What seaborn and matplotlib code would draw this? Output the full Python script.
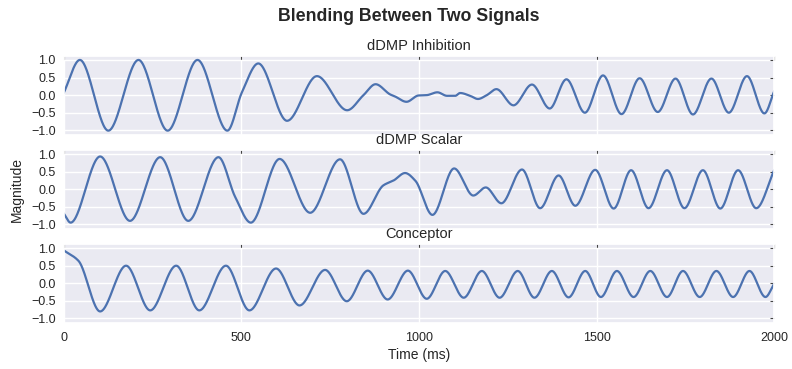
import numpy as np
import pandas as pd
import matplotlib
matplotlib.use("Agg")
import matplotlib.pyplot as plt
import seaborn as sns

# Turning points of each trace: time (ms) and magnitude
inhib_t = [0, 46, 126, 211, 293, 377, 461, 502, 548, 629, 713, 798, 844, 878,
           919, 933, 965, 999, 1022, 1052, 1079, 1102, 1116, 1144, 1166, 1191,
           1218, 1266, 1318, 1368, 1415, 1467, 1518, 1570, 1621, 1672, 1722,
           1771, 1823, 1872, 1923, 1972, 2000]
inhib_y = [0.05, 1.00, -1.01, 1.00, -1.01, 1.00, -1.01, 0.08, 0.90, -0.73, 0.54,
           -0.43, 0.00, 0.31, 0.02, -0.04, -0.19, -0.01, 0.00, 0.08, -0.02, -0.02,
           0.06, -0.02, -0.11, 0.00, 0.17, -0.29, 0.30, -0.38, 0.45, -0.50, 0.56,
           -0.54, 0.48, -0.48, 0.47, -0.55, 0.47, -0.50, 0.54, -0.52, 0.12]

scalar_t = [0, 20, 103, 187, 272, 351, 436, 483, 527, 608, 694, 778, 844, 900,
            929, 961, 990, 1038, 1099, 1153, 1188, 1232, 1290, 1341, 1393, 1440,
            1496, 1548, 1597, 1646, 1698, 1747, 1799, 1848, 1898, 1949, 2000]
scalar_y = [-0.68, -0.95, 0.93, -0.90, 0.91, -0.90, 0.91, -0.22, -0.95, 0.86,
            -0.67, 0.85, -0.70, 0.11, 0.25, 0.46, 0.24, -0.73, 0.59, -0.18, 0.05,
            -0.40, 0.56, -0.54, 0.39, -0.47, 0.55, -0.55, 0.54, -0.54, 0.54, -0.54,
            0.54, -0.55, 0.54, -0.54, 0.55]

concept_t = [0, 42, 103, 176, 244, 317, 382, 457, 523, 598, 664, 736, 797, 856,
             912, 969, 1022, 1074, 1126, 1177, 1227, 1278, 1325, 1374, 1421, 1468,
             1512, 1557, 1604, 1651, 1698, 1743, 1790, 1837, 1884, 1930, 1975, 2000]
concept_y = [0.94, 0.64, -0.80, 0.50, -0.77, 0.50, -0.77, 0.50, -0.77, 0.42,
             -0.63, 0.38, -0.51, 0.36, -0.46, 0.36, -0.44, 0.35, -0.41, 0.35,
             -0.41, 0.35, -0.41, 0.35, -0.40, 0.35, -0.39, 0.35, -0.39, 0.35,
             -0.39, 0.35, -0.39, 0.35, -0.39, 0.35, -0.39, 0.00]

panel_titles = ["dDMP Inhibition", "dDMP Scalar", "Conceptor"]
x_ticks = [0, 500, 1000, 1500, 2000]
y_ticks = [-1.0, -0.5, 0.0, 0.5, 1.0]


def smooth_trace(tk, yk, n=2001):
    """Shape-preserving cubic (Fritsch-Carlson) curve through the turning points."""
    tk = np.asarray(tk, float)
    yk = np.asarray(yk, float)
    h = np.diff(tk)
    d = np.diff(yk) / h
    m = np.zeros_like(yk)
    for k in range(1, len(yk) - 1):
        if d[k - 1] * d[k] > 0:
            w1 = 2 * h[k] + h[k - 1]
            w2 = h[k] + 2 * h[k - 1]
            m[k] = (w1 + w2) / (w1 / d[k - 1] + w2 / d[k])
    m[0] = d[0]
    m[-1] = d[-1]
    t = np.linspace(tk[0], tk[-1], n)
    idx = np.clip(np.searchsorted(tk, t, side="right") - 1, 0, len(h) - 1)
    s = (t - tk[idx]) / h[idx]
    h00 = 2 * s**3 - 3 * s**2 + 1
    h10 = s**3 - 2 * s**2 + s
    h01 = -2 * s**3 + 3 * s**2
    h11 = s**3 - s**2
    y = (h00 * yk[idx] + h10 * h[idx] * m[idx]
         + h01 * yk[idx + 1] + h11 * h[idx] * m[idx + 1])
    return t, y


sns.set_theme(style="darkgrid")
plt.rcParams["font.family"] = ["Liberation Sans", "DejaVu Sans"]

fig, axes = plt.subplots(3, 1, figsize=(7.92, 3.69), dpi=100, sharex=True)
fig.subplots_adjust(left=0.0802, right=0.9777, top=0.849, bottom=0.1255,
                    hspace=0.194)

series = [(inhib_t, inhib_y), (scalar_t, scalar_y), (concept_t, concept_y)]
for ax, (tk, yk), title in zip(axes, series, panel_titles):
    t, y = smooth_trace(tk, yk)
    df = pd.DataFrame({"Time (ms)": t, "Magnitude": y})
    sns.lineplot(data=df, x="Time (ms)", y="Magnitude", ax=ax,
                 color="#4C72B0", linewidth=1.6, estimator=None, sort=False)
    ax.set_title(title, fontsize=10.5, pad=4)
    ax.set_xlim(0, 2000)
    ax.set_ylim(-1.12, 1.12)
    ax.set_yticks(y_ticks)
    ax.set_xticks(x_ticks)
    ax.set_xlabel("")
    ax.set_ylabel("")
    ax.tick_params(axis="both", which="major", labelsize=9, length=3,
                   width=0.8, color="#444444", direction="in",
                   top=True, right=True)
    ax.tick_params(axis="x", pad=6.5)
    ax.tick_params(axis="y", pad=5.5)

axes[1].set_ylabel("Magnitude", fontsize=10, labelpad=5)
axes[2].set_xlabel("Time (ms)", fontsize=10, labelpad=3)
fig.suptitle("Blending Between Two Signals", fontsize=12.8, fontweight="bold",
             x=0.516, y=0.977)

fig.savefig("out.png", dpi=100)
